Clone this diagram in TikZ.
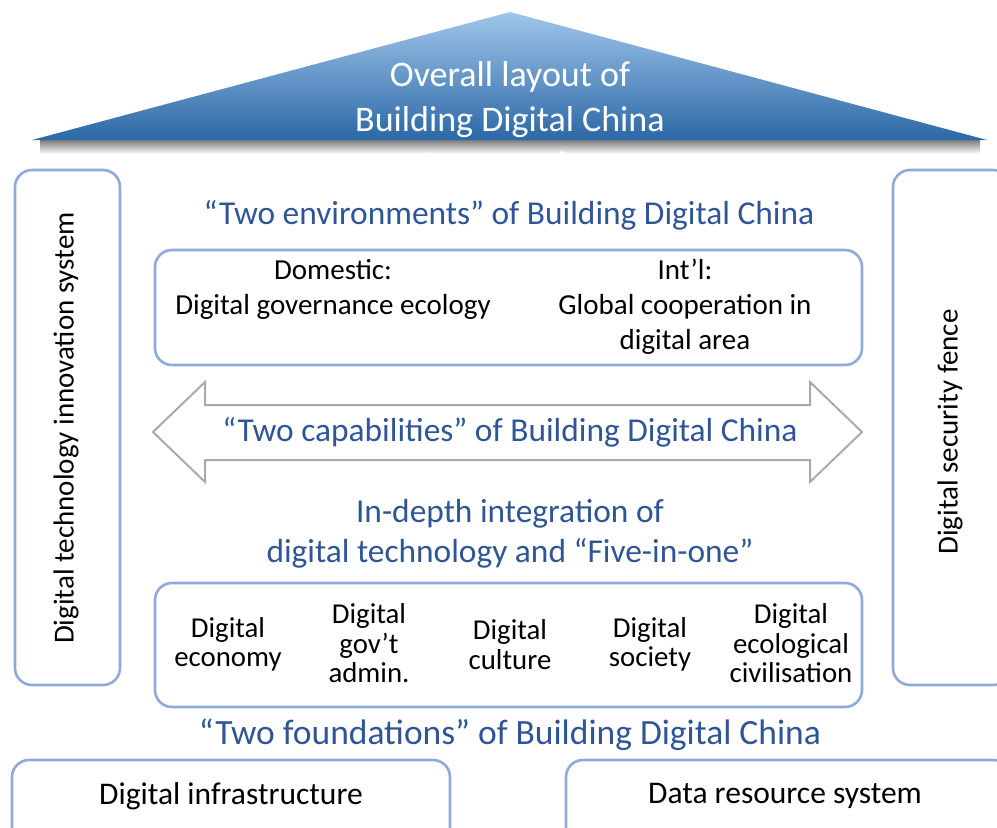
\documentclass[tikz,border=0pt]{standalone}
\usepackage{fontspec}
\setmainfont{Carlito}
\definecolor{titleblue}{RGB}{47,85,151}
\definecolor{boxblue}{RGB}{142,170,219}
\definecolor{arrowgray}{RGB}{170,170,170}
\definecolor{roofTop}{RGB}{160,198,234}
\definecolor{roofBot}{RGB}{44,104,166}
\newcommand\fzRoof{\fontsize{36}{45}\selectfont}
\newcommand\fzTitle{\fontsize{33.4}{40}\selectfont}
\newcommand\fzFound{\fontsize{35.5}{40}\selectfont}
\newcommand\fzEnv{\fontsize{29}{35}\selectfont}
\newcommand\fzItem{\fontsize{28.8}{29.5}\selectfont}
\newcommand\fzSide{\fontsize{29}{34}\selectfont}
\newcommand\fzBase{\fontsize{31.5}{36}\selectfont}
\begin{document}
\begin{tikzpicture}[x=1pt,y=-1pt,
  box/.style={draw=boxblue, line width=2.6pt, rounded corners=17pt, fill=white, inner sep=0pt},
  title/.style={text=titleblue, font=\fzTitle, align=center, inner sep=0pt},
  body/.style={text=black, align=center, inner sep=0pt},
  arrowbody/.style={draw=arrowgray, line width=2pt, fill=white, line join=miter}]
\useasboundingbox (0,0) rectangle (997,828);
\clip (0,0) rectangle (997,828);

% roof with its shadow
\coordinate (apex) at (510,12);
\coordinate (roofL) at (32,140);
\coordinate (roofR) at (987,140);
\shade[top color=black!55, bottom color=white] (40,139) rectangle (980,154);
\shade[top color=roofTop, bottom color=roofBot] (roofL) -- (apex) -- (roofR) -- cycle;
\node[body, text=white, font=\fzRoof] (roof) at (510,119) {Overall layout of\\Building Digital China\\Construction};

% side pillars
\node[box, minimum width=105pt, minimum height=515pt] (innov) at (67.5,427.5) {};
\node[body, rotate=90, font=\fzSide] (innovtxt) at (66,428) {Digital technology innovation system};
\node[box, minimum width=117pt, minimum height=515pt] (fence) at (951.5,427.5) {};
\node[body, rotate=90, font=\fzSide] (fencetxt) at (950,432) {Digital security fence};

% two environments
\node[title] (envtitle) at (509,215) {“Two environments” of Building Digital China};
\node[box, minimum width=707pt, minimum height=115pt] (env) at (508.5,307.5) {};
\node[body, font=\fzEnv] (dom) at (333,289.5) {Domestic:\\Digital governance ecology};
\node[body, font=\fzEnv] (intl) at (685,307) {Int’l:\\Global cooperation in\\digital area};

% two capabilities: double arrow
\coordinate (tipL) at (153,432);
\coordinate (tipR) at (862,432);
\draw[arrowbody] (tipL) -- (205,382) -- (205,405) -- (810,405) -- (810,382) -- (tipR)
  -- (810,482) -- (810,460) -- (205,460) -- (205,482) -- cycle;
\node[title] (capab) at (510,432) {“Two capabilities” of Building Digital China};

% five-in-one
\node[title] (integ) at (510,534) {In-depth integration of\\digital technology and “Five-in-one”};
\node[box, minimum width=707pt, minimum height=124pt] (five) at (508.5,645) {};
\node[body, font=\fzItem] (econ) at (228,644.5) {Digital\\economy};
\node[body, font=\fzItem] (gov) at (369,643.5) {Digital\\gov’t\\admin.};
\node[body, font=\fzItem] (cult) at (510,644.5) {Digital\\culture};
\node[body, font=\fzItem] (soc) at (650,644.5) {Digital\\society};
\node[body, font=\fzItem] (eco) at (791,643.5) {Digital\\ecological\\civilisation};

% two foundations
\node[title, font=\fzFound] (found) at (510,735) {“Two foundations” of Building Digital China};
\node[box, minimum width=438pt, minimum height=90pt] (infra) at (231,805) {};
\node[body, font=\fzBase] (infratxt) at (231,796) {Digital infrastructure};
\node[box, minimum width=444pt, minimum height=90pt] (data) at (788,805) {};
\node[body, font=\fzBase] (datatxt) at (785,796) {Data resource system};
\end{tikzpicture}
\end{document}
